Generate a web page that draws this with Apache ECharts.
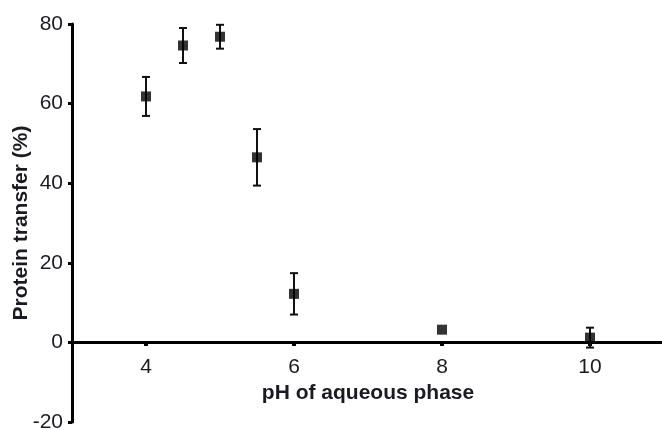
<!DOCTYPE html>
<html>
<head>
<meta charset="utf-8">
<script src="https://cdn.jsdelivr.net/npm/echarts@6/dist/echarts.min.js"></script>
<style>
html,body{margin:0;padding:0;background:#fff;}
#chart{width:662px;height:430px;}
</style>
</head>
<body>
<div id="chart"></div>
<script>
// Data
var phValues = [4, 4.5, 5, 5.5, 6, 8, 10];
var transferMean = [61.8, 74.6, 76.8, 46.5, 12.2, 3.2, 1.2];
var transferErr = [4.9, 4.4, 3.0, 7.1, 5.2, 0, 2.5];
var xTickValues = [4, 6, 8, 10];
var yTickValues = [-20, 0, 20, 40, 60, 80];

var textColor = '#1a1a22';
var font = 'Liberation Sans, Arial, sans-serif';

var points = phValues.map(function (x, i) { return [x, transferMean[i]]; });
var errData = phValues.map(function (x, i) {
  return [x, transferMean[i] - transferErr[i], transferMean[i] + transferErr[i]];
});

var chart = echarts.init(document.getElementById('chart'), null, { renderer: 'canvas' });
chart.setOption({
  animation: false,
  backgroundColor: '#fff',
  grid: { left: 72, top: 24, right: -2, bottom: 8, containLabel: false, outerBoundsMode: 'none' },
  xAxis: {
    type: 'value',
    min: 3,
    max: 11,
    position: 'bottom',
    offset: -80,
    name: 'pH of aqueous phase',
    nameLocation: 'middle',
    nameGap: 41,
    nameMoveOverlap: false,
    nameTextStyle: { color: textColor, fontFamily: font, fontSize: 21, fontWeight: 'bold' },
    axisLine: { show: true, onZero: false, lineStyle: { color: '#000', width: 3 } },
    axisTick: { show: true, length: 4, customValues: xTickValues, lineStyle: { color: '#000', width: 4 } },
    axisLabel: { customValues: xTickValues, color: textColor, fontFamily: font, fontSize: 21, margin: 15 },
    splitLine: { show: false }
  },
  yAxis: {
    type: 'value',
    min: -20,
    max: 80,
    interval: 20,
    name: 'Protein transfer (%)',
    nameLocation: 'middle',
    nameGap: 40,
    nameMoveOverlap: false,
    nameTextStyle: { color: textColor, fontFamily: font, fontSize: 21, fontWeight: 'bold' },
    axisLine: { show: true, onZero: false, lineStyle: { color: '#000', width: 3 } },
    axisTick: { show: true, length: 4, lineStyle: { color: '#000', width: 3 } },
    axisLabel: { color: textColor, fontFamily: font, fontSize: 21, margin: 9 },
    splitLine: { show: false }
  },
  series: [
    {
      type: 'custom',
      data: errData,
      z: 2,
      renderItem: function (params, api) {
        var x = api.value(0);
        var lo = api.coord([x, api.value(1)]);
        var hi = api.coord([x, api.value(2)]);
        var hw = 4;
        if (Math.abs(hi[1] - lo[1]) < 1) return null;
        var style = { stroke: '#111', lineWidth: 2 };
        return {
          type: 'group',
          children: [
            { type: 'line', shape: { x1: lo[0], y1: lo[1], x2: hi[0], y2: hi[1] }, style: style },
            { type: 'line', shape: { x1: lo[0] - hw, y1: lo[1], x2: lo[0] + hw, y2: lo[1] }, style: style },
            { type: 'line', shape: { x1: hi[0] - hw, y1: hi[1], x2: hi[0] + hw, y2: hi[1] }, style: style }
          ]
        };
      }
    },
    {
      type: 'scatter',
      data: points,
      symbol: 'rect',
      symbolSize: 10,
      z: 3,
      itemStyle: { color: '#000' }
    }
  ]
});
</script>
</body>
</html>
